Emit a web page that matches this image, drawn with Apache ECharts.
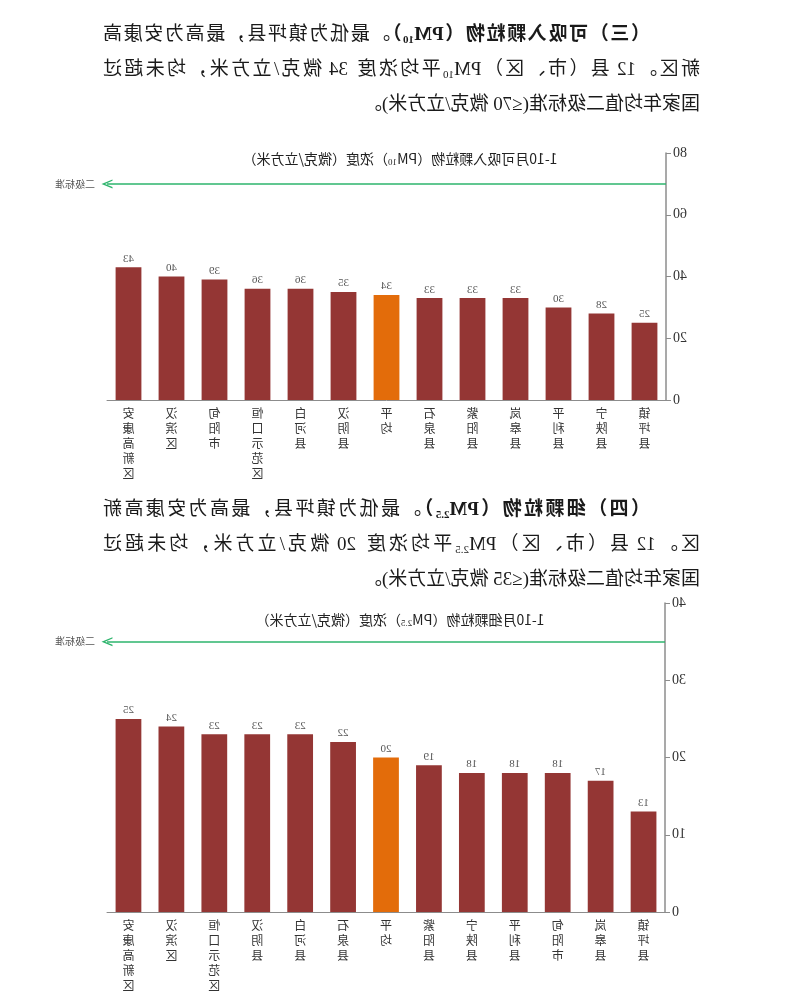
<!DOCTYPE html>
<html lang="zh">
<head>
    <meta charset="UTF-8">
    <title>可吸入颗粒物与细颗粒物浓度</title>
    <script src="https://cdn.jsdelivr.net/npm/echarts@6/dist/echarts.min.js"></script>
    <style>
        html, body {
            margin: 0;
            padding: 0;
            background: #ffffff;
        }
        #page {
            position: relative;
            width: 800px;
            height: 993px;
            overflow: hidden;
            transform: scaleX(-1);
        }
        #chart {
            position: absolute;
            left: 0;
            top: 0;
            width: 800px;
            height: 993px;
        }
        .para {
            position: absolute;
            left: 100px;
            width: 597px;
            font-family: "Liberation Serif", "Noto Sans CJK SC", serif;
            font-size: 19px;
            line-height: 35px;
            color: #1a1a1a;
        }
        .para div.full {
            text-align: justify;
            text-align-last: justify;
        }
        .para div.first {
            padding-left: 50px;
        }
        .para b {
            font-weight: bold;
        }
        sub {
            font-size: 11px;
            vertical-align: -3px;
            line-height: 0;
        }
    </style>
</head>
<body>
<div id="page">
    <div id="chart"></div>
    <div class="para" style="top:16px">
        <div class="full first"><b>（三）可吸入颗粒物（PM<sub>10</sub>）</b>。最低为镇坪县，最高为安康高</div>
        <div class="full">新区。12 县（市、区）PM<sub>10</sub>平均浓度 34 微克/立方米，均未超过</div>
        <div>国家年均值二级标准(≤70 微克/立方米)。</div>
    </div>
    <div class="para" style="top:491px">
        <div class="full first"><b>（四）细颗粒物（PM<sub>2.5</sub>）</b>。最低为镇坪县，最高为安康高新</div>
        <div class="full">区。12 县（市、区）PM<sub>2.5</sub>平均浓度 20 微克/立方米，均未超过</div>
        <div>国家年均值二级标准(≤35 微克/立方米)。</div>
    </div>
</div>
<script>
    // PM10 1-10月浓度
    let pm10Areas = ['镇坪县', '宁陕县', '平利县', '岚皋县', '紫阳县', '石泉县', '平均',
        '汉阴县', '白河县', '恒口示范区', '旬阳市', '汉滨区', '安康高新区'];
    let pm10Values = [25, 28, 30, 33, 33, 33, 34, 35, 36, 36, 39, 40, 43];
    let pm10Standard = 70;
    let pm10Ticks = [0, 80, 20];

    // PM2.5 1-10月浓度
    let pm25Areas = ['镇坪县', '岚皋县', '旬阳市', '平利县', '宁陕县', '紫阳县', '平均',
        '石泉县', '白河县', '汉阴县', '恒口示范区', '汉滨区', '安康高新区'];
    let pm25Values = [13, 17, 18, 18, 18, 19, 20, 22, 23, 23, 23, 24, 25];
    let pm25Standard = 35;
    let pm25Ticks = [0, 40, 10];

    let standardName = '二级标准';
    let avgName = '平均';

    let barRed = '#943634';
    let barOrange = '#e36c0a';
    let axisGray = '#8c8c8c';
    let serif = '"Liberation Serif", "Noto Sans CJK SC", serif';
    let cjk = '"Noto Sans CJK SC", sans-serif';

    function makeX(idx) {
        return {
            type: 'category',
            gridIndex: idx,
            data: idx === 0 ? pm10Areas : pm25Areas,
            axisLine: { lineStyle: { color: axisGray, width: 1 } },
            axisTick: { length: 5, lineStyle: { color: axisGray } },
            axisLabel: {
                interval: 0,
                margin: 6,
                fontFamily: cjk,
                fontSize: 12,
                lineHeight: 15,
                color: '#333',
                verticalAlign: 'top',
                formatter: function (v) { return v.split('').join('\n'); }
            }
        };
    }

    function makeY(idx, ticks) {
        return {
            type: 'value',
            gridIndex: idx,
            min: ticks[0],
            max: ticks[1],
            interval: ticks[2],
            splitLine: { show: false },
            axisLine: { show: true, lineStyle: { color: axisGray, width: 1.5 } },
            axisTick: { show: true, length: 5, lineStyle: { color: axisGray } },
            axisLabel: { fontFamily: serif, fontSize: 14, color: '#333', margin: 7 }
        };
    }

    function makeSeries(idx, areas, values, standard) {
        return {
            type: 'bar',
            xAxisIndex: idx,
            yAxisIndex: idx,
            barWidth: '60%',
            data: values,
            itemStyle: {
                color: function (p) { return areas[p.dataIndex] === avgName ? barOrange : barRed; }
            },
            label: {
                show: true,
                position: 'top',
                distance: 3,
                fontFamily: serif,
                fontSize: 11,
                color: '#555'
            },
            markLine: {
                silent: true,
                symbol: ['none', 'path://M0,10L5,0L10,10L8.6,10L5,3.2L1.4,10Z'],
                symbolSize: [9, 11],
                lineStyle: { color: '#2db46c', width: 1.5, type: 'solid' },
                label: {
                    position: 'end',
                    formatter: standardName,
                    fontFamily: cjk,
                    fontSize: 10,
                    color: '#555',
                    distance: 12
                },
                data: [{ yAxis: standard }]
            }
        };
    }

    function makeTitle(top, sub) {
        return {
            left: 'center',
            top: top,
            text: '{a|1-10月' + (sub === '10' ? '可吸入颗粒物' : '细颗粒物') + '（PM}{s|' + sub + '}{a|）浓度（微克/立方米）}',
            textStyle: {
                rich: {
                    a: { fontFamily: cjk, fontSize: 14, fontWeight: 'normal', color: '#222' },
                    s: { fontFamily: serif, fontSize: 9, fontWeight: 'normal', color: '#222', verticalAlign: 'bottom', padding: [7, 0, 0, 0] }
                }
            }
        };
    }

    let option = {
        backgroundColor: 'transparent',
        animation: false,
        title: [makeTitle(146, '10'), makeTitle(607, '2.5')],
        grid: [
            { left: 134, width: 559, top: 153, height: 247 },
            { left: 135, width: 558, top: 603, height: 310 }
        ],
        xAxis: [makeX(0), makeX(1)],
        yAxis: [makeY(0, pm10Ticks), makeY(1, pm25Ticks)],
        series: [
            makeSeries(0, pm10Areas, pm10Values, pm10Standard),
            makeSeries(1, pm25Areas, pm25Values, pm25Standard)
        ]
    };

    let chart = echarts.init(document.getElementById('chart'));
    chart.setOption(option);
</script>
</body>
</html>
